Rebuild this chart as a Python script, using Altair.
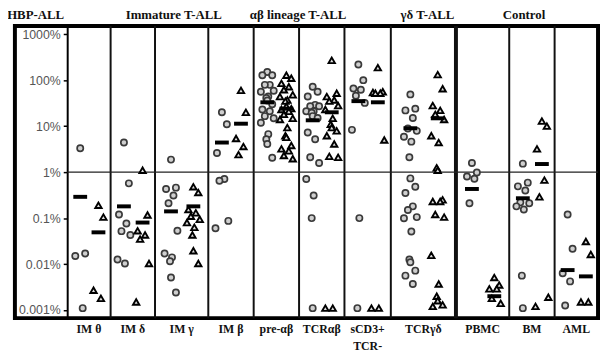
import altair as alt
import pandas as pd

# ---------------- data ----------------
categories = ["IM θ", "IM δ", "IM γ", "IM β", "pre-αβ", "TCRαβ", "sCD3+\nTCR-",
              "TCRγδ", "PBMC", "BM", "AML"]

circle_vals = [
    [3.3, 0.017, 0.015, 0.0011],
    [4.4, 0.57, 0.12, 0.076, 0.052, 0.043, 0.0126, 0.0103],
    [1.87, 0.46, 0.43, 0.31, 0.21, 0.053, 0.017, 0.014, 0.0115, 0.0051, 0.0024],
    [20, 11, 2.6, 0.71, 0.65, 0.087, 0.060],
    [150, 128, 128, 79, 79, 59, 56, 44, 41, 36, 30, 23, 21, 16.5, 14.8, 11.9, 6.7, 5.2, 4.1, 2.06],
    [72, 56, 44, 29, 27, 27, 21, 21, 19.5, 16.5, 15, 7.3, 5.2, 2.1, 1.58, 0.71, 0.31, 0.10, 0.0011],
    [220, 100, 66, 62, 46, 32, 8.3, 0.10, 0.0011],
    [49, 24, 22, 15, 8.9, 7.9, 5.9, 4.6, 2.1, 0.73, 0.48, 0.35, 0.18, 0.15, 0.105, 0.099, 0.051,
     0.0126, 0.011, 0.0072, 0.0056, 0.0037],
    [1.58, 0.98, 0.80, 0.72, 0.21],
    [1.53, 0.59, 0.49, 0.40, 0.22, 0.21, 0.18, 0.154, 0.0056, 0.0011],
    [0.12, 0.0215, 0.0063, 0.0042, 0.00126],
]

triangle_vals = [
    [0.19, 0.105, 0.0027, 0.0018],
    [1.1, 0.117, 0.053, 0.043, 0.035, 0.0103, 0.0015],
    [0.48, 0.36, 0.154, 0.13, 0.11, 0.094, 0.080, 0.063, 0.043, 0.0195, 0.0103],
    [60, 20, 5.4, 3.6, 2.4],
    [128, 110, 85, 72, 62, 48, 44, 37, 35, 27, 24, 23, 21, 18, 14.8, 14, 9.3, 6.2, 5.7, 3.8,
     3.2, 2.9, 2.3, 1.96],
    [270, 52, 44, 37, 35, 28, 23, 14.8, 11, 9.3, 7.9, 6.2, 4.1, 2.2, 2.1, 0.0011, 0.0011],
    [187, 56, 54, 52, 52, 5.0, 0.0011, 0.0011],
    [132, 65, 28, 22, 18, 14, 6.2, 4.4, 1.24, 1.1, 0.25, 0.23, 0.23, 0.12, 0.105, 0.0155,
     0.0037, 0.002, 0.0016, 0.0013, 0.0012],
    [0.0051, 0.0035, 0.0029, 0.0029, 0.0018, 0.0014],
    [12.9, 10, 3.2, 0.67, 0.29, 0.0019, 0.0012],
    [0.031, 0.0162, 0.0015, 0.0015],
]

circle_medians = [0.29, 0.18, 0.14, 4.4, 33, 13.4, 35, 9.0, 0.43, 0.27, 0.0074]
triangle_medians = [0.049, 0.080, 0.18, 11.3, 24, 20, 33, 14.8, 0.0020, 1.5, 0.0054]

y_ticks = [0.001, 0.01, 0.1, 1, 10, 100, 1000]

group_labels = ["HBP-ALL", "Immature T-ALL", "αβ lineage T-ALL", "γδ T-ALL", "Control"]

# ---------------- layout (style) ----------------
col_widths = [44, 45, 54, 46, 46, 46, 47, 66, 54, 46, 44]
group_label_x = [-32, 108, 234, 365, 463]
axis_room = 53
JITTER = [0, 5, -5, 2.5, -2.5, 6.5, -6.5, 1, -1]
CIRC_FRAC, TRI_FRAC = 0.30, 0.72
BAR_HALF = 7

edges = [0]
for w in col_widths:
    edges.append(edges[-1] + w)

pts, meds, labs = [], [], []
for i, cat in enumerate(categories):
    left, w = edges[i], col_widths[i]
    for kind, vals, frac, med in (("circle", circle_vals[i], CIRC_FRAC, circle_medians[i]),
                                  ("triangle", triangle_vals[i], TRI_FRAC, triangle_medians[i])):
        cx = left + frac * w
        for j, v in enumerate(sorted(vals, reverse=True)):
            pts.append(dict(cat=cat, kind=kind, value=v, x=cx + JITTER[j % len(JITTER)]))
        meds.append(dict(cat=cat, kind=kind, value=med, x=cx - BAR_HALF, x2=cx + BAR_HALF))
    labs.append(dict(label=cat, x=left + w / 2))

pts_df = pd.DataFrame(pts)
med_df = pd.DataFrame(meds)
lab_df = pd.DataFrame(labs)
div_df = pd.DataFrame(dict(x=edges[1:-1],
                           w=[4 if categories[i] == "PBMC" else 2 for i in range(1, len(categories))]))
grp_df = pd.DataFrame(dict(label=group_labels, x=group_label_x))
ref_df = pd.DataFrame(dict(value=[1], x=[0], x2=[edges[-1]]))

lo, hi = 10 ** -3.176, 10 ** 3.176
xs = alt.Scale(domain=[-axis_room, edges[-1]], nice=False, zero=False)
ys = alt.Scale(type="log", domain=[lo, hi], nice=False)

circles = alt.Chart(pts_df[pts_df.kind == "circle"]).mark_point(
    shape="circle", filled=True, fill="#cfcfcf", stroke="#3a3a3a", strokeWidth=1.7,
    size=40, opacity=1
).encode(
    x=alt.X("x:Q", scale=xs, axis=None),
    y=alt.Y("value:Q", scale=ys, axis=alt.Axis(
        values=y_ticks, labelExpr="format(datum.value, '~g') + '%'", offset=-axis_room,
        domainColor="black", domainWidth=2, tickColor="black", tickSize=4, tickWidth=1.5,
        labelFont="Liberation Sans", labelFontSize=12.5, labelColor="#555555",
        labelPadding=3, grid=False, title=None, labelFlush=False, labelOverlap=False)),
)

triangles = alt.Chart(pts_df[pts_df.kind == "triangle"]).mark_point(
    shape="triangle-up", filled=True, fill="#dddddd", stroke="black", strokeWidth=1.9,
    size=42, opacity=1
).encode(
    x=alt.X("x:Q", scale=xs, axis=None),
    y=alt.Y("value:Q", scale=ys),
)

medians = alt.Chart(med_df).mark_rule(color="black", strokeWidth=4).encode(
    x=alt.X("x:Q", scale=xs, axis=None), x2="x2:Q",
    y=alt.Y("value:Q", scale=ys),
)

dividers = alt.Chart(div_df).mark_rule(color="#111111").encode(
    x=alt.X("x:Q", scale=xs, axis=None),
    strokeWidth=alt.StrokeWidth("w:Q", scale=None, legend=None),
)

ref_line = alt.Chart(ref_df).mark_rule(color="#222222", strokeWidth=1.5).encode(
    x=alt.X("x:Q", scale=xs, axis=None), x2="x2:Q",
    y=alt.Y("value:Q", scale=ys),
)

col_labels = alt.Chart(lab_df).mark_text(
    font="Liberation Serif", fontWeight="bold", fontSize=12, baseline="top",
    align="center", lineBreak="\n", lineHeight=17, color="#111111"
).encode(
    x=alt.X("x:Q", scale=xs, axis=None),
    y=alt.value(302),
    text="label:N",
)

grp_labels = alt.Chart(grp_df).mark_text(
    font="Liberation Serif", fontWeight="bold", fontSize=13, baseline="middle",
    align="center", color="#111111"
).encode(
    x=alt.X("x:Q", scale=xs, axis=None),
    y=alt.value(-11),
    text="label:N",
)

chart = alt.layer(
    dividers, ref_line, circles, triangles, medians, col_labels, grp_labels
).properties(
    width=591, height=296,
    autosize=alt.AutoSizeParams(type="none"),
    padding={"left": 7, "top": 16, "right": 2, "bottom": 34},
    background="white",
).configure_view(
    stroke="black", strokeWidth=4
)

chart.save("out.html", embed_options={"renderer": "svg", "actions": False})
